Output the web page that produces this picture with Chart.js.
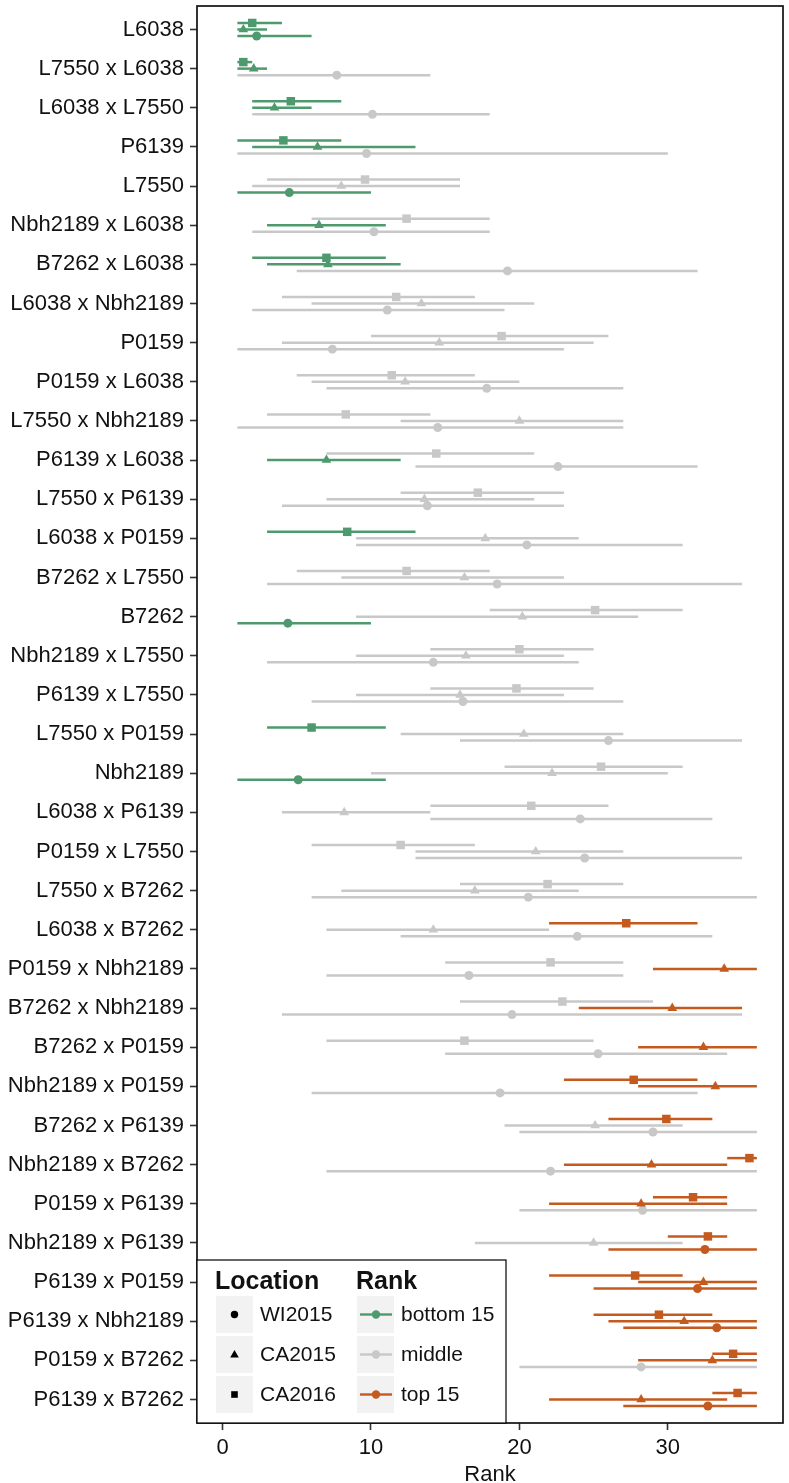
<!DOCTYPE html>
<html>
<head>
<meta charset="utf-8">
<script src="https://cdn.jsdelivr.net/npm/chart.js@4.4.1/dist/chart.umd.min.js"></script>
<style>
  html, body { margin: 0; padding: 0; background: #fff; }
  #wrap { width: 789px; height: 1483px; }
</style>
</head>
<body>
<div id="wrap"><canvas id="chart"></canvas></div>
<script>
'use strict';

// genotypes, top to bottom
const categories = [
  'L6038', 'L7550 x L6038', 'L6038 x L7550', 'P6139', 'L7550',
  'Nbh2189 x L6038', 'B7262 x L6038', 'L6038 x Nbh2189', 'P0159', 'P0159 x L6038',
  'L7550 x Nbh2189', 'P6139 x L6038', 'L7550 x P6139', 'L6038 x P0159', 'B7262 x L7550',
  'B7262', 'Nbh2189 x L7550', 'P6139 x L7550', 'L7550 x P0159', 'Nbh2189',
  'L6038 x P6139', 'P0159 x L7550', 'L7550 x B7262', 'L6038 x B7262', 'P0159 x Nbh2189',
  'B7262 x Nbh2189', 'B7262 x P0159', 'Nbh2189 x P0159', 'B7262 x P6139', 'Nbh2189 x B7262',
  'P0159 x P6139', 'Nbh2189 x P6139', 'P6139 x P0159', 'P6139 x Nbh2189', 'P0159 x B7262',
  'P6139 x B7262'
];

// WI2015 (circle)
const wiMean = [2.3, 7.7, 10.1, 9.7, 4.5, 10.2, 19.2, 11.1, 7.4, 17.8, 14.5, 22.6, 13.8, 20.5, 18.5, 4.4, 14.2, 16.2, 26.0, 5.1,
  24.1, 24.4, 20.6, 23.9, 16.6, 19.5, 25.3, 18.7, 29.0, 22.1, 28.3, 32.5, 32.0, 33.3, 28.2, 32.7];
const wiLow = [1, 1, 2, 1, 1, 2, 5, 2, 1, 7, 1, 13, 4, 9, 3, 1, 3, 6, 16, 1,
  14, 13, 6, 12, 7, 4, 15, 6, 20, 7, 20, 26, 25, 27, 20, 27];
const wiHigh = [6, 14, 18, 30, 10, 18, 32, 19, 23, 27, 27, 32, 23, 31, 35, 10, 24, 27, 35, 11,
  33, 35, 36, 33, 27, 35, 34, 32, 36, 36, 36, 36, 36, 36, 36, 36];
const wiRank = ['b', 'm', 'm', 'm', 'b', 'm', 'm', 'm', 'm', 'm', 'm', 'm', 'm', 'm', 'm', 'b', 'm', 'm', 'm', 'b',
  'm', 'm', 'm', 'm', 'm', 'm', 'm', 'm', 'm', 'm', 'm', 't', 't', 't', 'm', 't'];

// CA2015 (triangle)
const ca15Mean = [1.4, 2.1, 3.5, 6.4, 8.0, 6.5, 7.1, 13.4, 14.6, 12.3, 20.0, 7.0, 13.6, 17.7, 16.3, 20.2, 16.4, 16.0, 20.3, 22.2,
  8.2, 21.1, 17.0, 14.2, 33.8, 30.3, 32.4, 33.2, 25.1, 28.9, 28.2, 25.0, 32.4, 31.1, 33.0, 28.2];
const ca15Low = [1, 1, 2, 2, 2, 3, 3, 6, 4, 6, 12, 3, 7, 9, 8, 9, 9, 9, 12, 10,
  4, 13, 8, 7, 29, 24, 28, 28, 19, 23, 22, 17, 28, 26, 28, 22];
const ca15High = [3, 3, 6, 13, 16, 11, 12, 21, 25, 20, 27, 12, 21, 24, 23, 28, 23, 23, 27, 30,
  14, 27, 24, 22, 36, 35, 36, 36, 31, 34, 34, 31, 36, 36, 36, 34];
const ca15Rank = ['b', 'b', 'b', 'b', 'm', 'b', 'b', 'm', 'm', 'm', 'm', 'b', 'm', 'm', 'm', 'm', 'm', 'm', 'm', 'm',
  'm', 'm', 'm', 'm', 't', 't', 't', 't', 'm', 't', 't', 'm', 't', 't', 't', 't'];

// CA2016 (square)
const ca16Mean = [2.0, 1.4, 4.6, 4.1, 9.6, 12.4, 7.0, 11.7, 18.8, 11.4, 8.3, 14.4, 17.2, 8.4, 12.4, 25.1, 20.0, 19.8, 6.0, 25.5,
  20.8, 12.0, 21.9, 27.2, 22.1, 22.9, 16.3, 27.7, 29.9, 35.5, 31.7, 32.7, 27.8, 29.4, 34.4, 34.7];
const ca16Low = [1, 1, 2, 1, 3, 6, 2, 4, 10, 5, 3, 7, 12, 3, 5, 18, 14, 14, 3, 19,
  14, 6, 16, 22, 15, 16, 7, 23, 26, 34, 29, 30, 22, 25, 33, 33];
const ca16High = [4, 2, 8, 8, 16, 18, 11, 17, 26, 17, 14, 21, 23, 13, 18, 31, 25, 25, 11, 31,
  26, 17, 27, 32, 27, 29, 25, 32, 33, 36, 34, 34, 31, 33, 36, 36];
const ca16Rank = ['b', 'b', 'b', 'b', 'm', 'm', 'b', 'm', 'm', 'm', 'm', 'm', 'm', 'b', 'm', 'm', 'm', 'm', 'b', 'm',
  'm', 'm', 'm', 't', 'm', 'm', 'm', 't', 't', 't', 't', 't', 't', 't', 't', 't'];

const xTicks = [0, 10, 20, 30];

const rankColor = { b: '#4e9a6e', m: '#c8c8c8', t: '#c45a1e' };
const rankNames = [['b', 'bottom 15'], ['m', 'middle'], ['t', 'top 15']];
const dodge = 0.167;
const fontFam = '"Liberation Sans", Arial, sans-serif';
const textCol = '#111';

function makeSet(label, means, lows, highs, ranks, offset, style, radius) {
  return {
    label: label,
    data: means.map((m, i) => ({ x: m, y: i + offset, lo: lows[i], hi: highs[i], rank: ranks[i] })),
    pointStyle: style,
    pointRadius: radius,
    pointHoverRadius: radius,
    pointBorderWidth: 0,
    pointBackgroundColor: ranks.map(r => rankColor[r]),
    pointBorderColor: ranks.map(r => rankColor[r])
  };
}

const datasets = [
  makeSet('CA2016', ca16Mean, ca16Low, ca16High, ca16Rank, -dodge, 'rect', 6.0),
  makeSet('CA2015', ca15Mean, ca15Low, ca15High, ca15Rank, 0, 'triangle', 5.6),
  makeSet('WI2015', wiMean, wiLow, wiHigh, wiRank, dodge, 'circle', 4.5)
];

// horizontal range lines drawn under the points
const rangeBars = {
  id: 'rangeBars',
  beforeDatasetsDraw(chart) {
    const ctx = chart.ctx;
    const xs = chart.scales.x, ys = chart.scales.y;
    ctx.save();
    ctx.lineWidth = 2.5;
    ctx.lineCap = 'butt';
    chart.data.datasets.forEach(ds => {
      ds.data.forEach(p => {
        const y = ys.getPixelForValue(p.y);
        ctx.strokeStyle = rankColor[p.rank];
        ctx.beginPath();
        ctx.moveTo(xs.getPixelForValue(p.lo), y);
        ctx.lineTo(xs.getPixelForValue(p.hi), y);
        ctx.stroke();
      });
    });
    ctx.restore();
  }
};

const frameAndLegend = {
  id: 'frameAndLegend',
  afterDraw(chart) {
    const ctx = chart.ctx;
    const a = chart.chartArea;
    ctx.save();
    ctx.strokeStyle = '#111';
    ctx.lineWidth = 1.7;
    ctx.strokeRect(a.left, a.top, a.right - a.left, a.bottom - a.top);

    // legend box in bottom-left corner
    const w = 309, h = 163;
    const L = a.left, T = a.bottom - h;
    ctx.fillStyle = '#fff';
    ctx.fillRect(L, T, w, h);
    ctx.strokeStyle = '#000';
    ctx.lineWidth = 1.2;
    ctx.strokeRect(L, T, w, h);

    ctx.fillStyle = textCol;
    ctx.font = 'bold 25px ' + fontFam;
    ctx.textBaseline = 'alphabetic';
    ctx.fillText('Location', L + 18, T + 29);
    ctx.fillText('Rank', L + 159, T + 29);

    const locs = [['circle', 'WI2015'], ['triangle', 'CA2015'], ['rect', 'CA2016']];
    ctx.font = '21px ' + fontFam;
    ctx.textBaseline = 'middle';
    for (let i = 0; i < 3; i++) {
      const top = T + 36 + i * 40;
      const cy = top + 18.5;
      ctx.fillStyle = '#f2f2f2';
      ctx.fillRect(L + 19, top, 37, 37);
      ctx.fillRect(L + 160, top, 37, 37);

      ctx.fillStyle = '#000';
      const cx = L + 37.5;
      ctx.beginPath();
      if (locs[i][0] === 'circle') {
        ctx.arc(cx, cy, 3.7, 0, Math.PI * 2);
      } else if (locs[i][0] === 'triangle') {
        ctx.moveTo(cx, cy - 4.6);
        ctx.lineTo(cx + 4.3, cy + 3.0);
        ctx.lineTo(cx - 4.3, cy + 3.0);
        ctx.closePath();
      } else {
        ctx.rect(cx - 3.3, cy - 3.3, 6.6, 6.6);
      }
      ctx.fill();
      ctx.fillStyle = textCol;
      ctx.fillText(locs[i][1], L + 63, cy + 1);

      const col = rankColor[rankNames[i][0]];
      ctx.strokeStyle = col;
      ctx.lineWidth = 2.4;
      ctx.beginPath();
      ctx.moveTo(L + 163, cy);
      ctx.lineTo(L + 195, cy);
      ctx.stroke();
      ctx.fillStyle = col;
      ctx.beginPath();
      ctx.arc(L + 179, cy, 4.2, 0, Math.PI * 2);
      ctx.fill();
      ctx.fillStyle = textCol;
      ctx.fillText(rankNames[i][1], L + 204, cy + 1);
    }
    ctx.restore();
  }
};

const canvasElem = document.getElementById('chart');

const config = {
  type: 'scatter',
  data: { datasets: datasets },
  options: {
    responsive: true,
    maintainAspectRatio: false,
    animation: false,
    devicePixelRatio: 1,
    layout: { padding: { left: 0, right: 3, top: 0, bottom: 0 } },
    plugins: {
      legend: { display: false },
      tooltip: { enabled: false }
    },
    scales: {
      x: {
        type: 'linear',
        min: -1.72,
        max: 37.76,
        afterBuildTicks(scale) { scale.ticks = xTicks.map(v => ({ value: v })); },
        afterFit(scale) {
          scale.height = 60;
          scale.paddingLeft = 0;
          scale.paddingRight = 0;
        },
        grid: { drawOnChartArea: false, drawTicks: true, tickLength: 7, tickColor: '#333', tickWidth: 1.6 },
        border: { display: false },
        ticks: { color: textCol, font: { family: fontFam, size: 22 }, padding: 5, maxRotation: 0 },
        title: {
          display: true, text: 'Rank', color: textCol,
          font: { family: fontFam, size: 22, lineHeight: 1 }, padding: { top: 0, bottom: -3 }
        }
      },
      y: {
        type: 'linear',
        reverse: true,
        min: -0.6,
        max: categories.length - 0.4,
        afterBuildTicks(scale) { scale.ticks = categories.map((c, i) => ({ value: i })); },
        afterFit(scale) {
          scale.width = 197;
          scale.paddingTop = 0;
          scale.paddingBottom = 0;
        },
        grid: { drawOnChartArea: false, drawTicks: true, tickLength: 7, tickColor: '#333', tickWidth: 1.6 },
        border: { display: false },
        ticks: {
          autoSkip: false,
          color: textCol,
          font: { family: fontFam, size: 22 },
          padding: 6,
          callback: v => categories[v]
        }
      }
    }
  },
  plugins: [rangeBars, frameAndLegend]
};

new Chart(canvasElem, config);
</script>
</body>
</html>
